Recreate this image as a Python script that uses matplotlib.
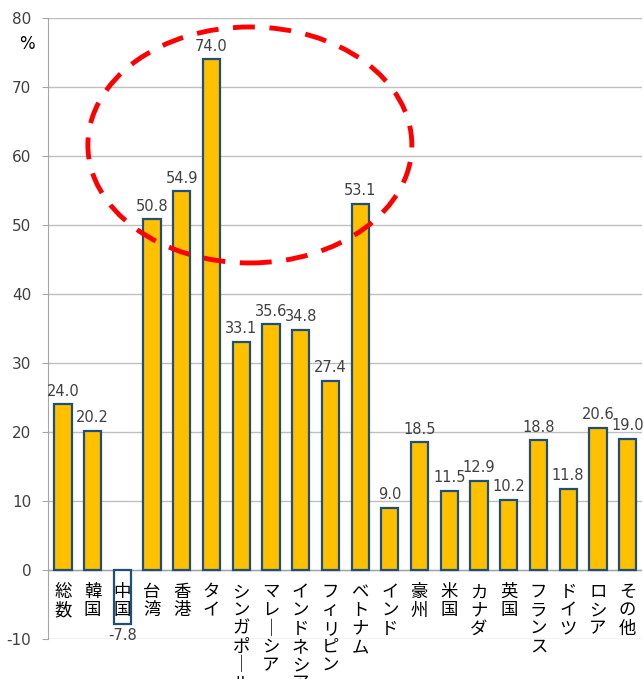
import numpy as np
import matplotlib
matplotlib.use('Agg')
import matplotlib.pyplot as plt
from matplotlib.patches import Ellipse

plt.rcParams['font.family'] = ['Noto Sans CJK JP', 'DejaVu Sans']

categories = ['総数', '韓国', '中国', '台湾', '香港', 'タイ', 'シンガポール', 'マレーシア',
              'インドネシア', 'フィリピン', 'ベトナム', 'インド', '豪州', '米国', 'カナダ',
              '英国', 'フランス', 'ドイツ', 'ロシア', 'その他']
values = [24.0, 20.2, -7.8, 50.8, 54.9, 74.0, 33.1, 35.6, 34.8, 27.4, 53.1,
          9.0, 18.5, 11.5, 12.9, 10.2, 18.8, 11.8, 20.6, 19.0]
y_ticks = list(range(-10, 81, 10))

fig = plt.figure(figsize=(6.43, 6.79), dpi=100)
ax = fig.add_axes([0.0747, 0.0589, 0.9245, 0.9146])

x = np.arange(len(categories))
fills = ['#FFC000' if v >= 0 else 'white' for v in values]
ax.bar(x, values, width=0.58, color=fills, edgecolor='#1F4E79', linewidth=1.6, zorder=3)

for xi, v in zip(x, values):
    if v >= 0:
        ax.text(xi, v + 0.8, f'{v:.1f}', ha='center', va='bottom', fontsize=10.5,
                color='#404040', family='DejaVu Sans')
    else:
        ax.text(xi, v - 0.6, f'{v:.1f}', ha='center', va='top', fontsize=10.5,
                color='#404040', family='DejaVu Sans')

# vertical category labels
for xi, lab in zip(x, categories):
    txt = '\n'.join('｜' if c == 'ー' else c for c in lab)
    ax.text(xi, -1.9, txt, ha='center', va='top', fontsize=12.5, linespacing=1.02,
            color='black', zorder=4)

ax.set_xlim(-0.5, len(categories) - 0.5)
ax.set_ylim(-10, 80)
ax.set_yticks(y_ticks)
ax.set_yticklabels([str(t) for t in y_ticks], fontsize=11, color='#404040',
                   family='DejaVu Sans')
ax.set_xticks([])
ax.yaxis.grid(True, color='#BFBFBF', linewidth=1.0, zorder=0)
ax.axhline(0, color='#A6A6A6', linewidth=1.0, zorder=2)
for s in ['top', 'right', 'bottom']:
    ax.spines[s].set_visible(False)
ax.spines['left'].set_color('#A6A6A6')
ax.tick_params(axis='y', length=4, color='#A6A6A6', pad=8)

ax.text(-1.2, 76.3, '%', fontsize=12, ha='center', va='center', family='DejaVu Sans',
        clip_on=False)

ell = Ellipse((6.29, 61.6), width=10.9, height=34.2, fill=False, edgecolor='red',
              linewidth=3.5, linestyle=(0, (4.5, 3)), zorder=5, clip_on=False)
ax.add_patch(ell)

fig.savefig('out.png', dpi=100)
